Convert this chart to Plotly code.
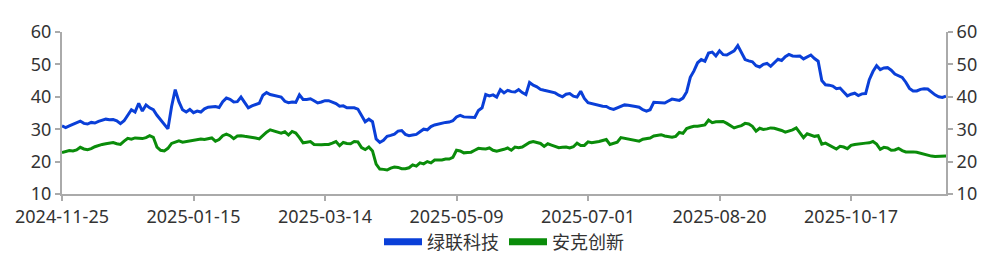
import pandas as pd
import plotly.graph_objects as go

# Trading calendar (categories)
start_date = "2024-11-25"
end_date = "2025-11-24"
holidays = ["2025-01-01", "2025-01-28", "2025-01-29", "2025-01-30", "2025-01-31",
            "2025-02-03", "2025-02-04", "2025-04-04", "2025-05-01", "2025-05-02",
            "2025-05-05", "2025-06-02", "2025-10-01", "2025-10-02", "2025-10-03",
            "2025-10-06", "2025-10-07", "2025-10-08"]
dates = [d.strftime("%Y-%m-%d") for d in pd.bdate_range(start_date, end_date)
         if d.strftime("%Y-%m-%d") not in holidays]

tick_labels = ["2024-11-25", "2025-01-15", "2025-03-14", "2025-05-09",
               "2025-07-01", "2025-08-20", "2025-10-17"]

series_names = ["绿联科技", "安克创新"]

lvlian = [
    31.0, 30.5, 31.0, 31.5, 31.9, 32.5, 31.8, 31.6, 32.1, 31.9,
    32.4, 32.8, 33.1, 32.9, 33.0, 32.6, 31.7, 32.6, 34.5, 36.0,
    35.3, 38.0, 35.6, 37.5, 36.6, 36.0, 34.3, 32.8, 31.5, 30.1,
    37.0, 42.2, 38.5, 36.0, 35.3, 36.1, 35.1, 35.6, 35.3, 36.3,
    36.8, 37.0, 37.0, 36.7, 38.5, 39.6, 39.2, 38.4, 38.5, 39.9,
    38.3, 36.6, 37.2, 37.5, 38.0, 40.5, 41.3, 40.7, 40.4, 40.2,
    39.9, 38.6, 38.2, 38.4, 38.3, 40.6, 39.2, 39.2, 39.4, 38.8,
    38.1, 38.4, 38.8, 38.8, 38.4, 37.9, 37.1, 37.2, 36.6, 36.7,
    36.6, 36.2, 34.2, 32.3, 33.1, 32.3, 27.0, 25.9, 26.6, 27.8,
    28.1, 28.5, 29.4, 29.6, 28.4, 28.0, 28.2, 28.4, 29.2, 30.0,
    29.8, 30.8, 31.3, 31.6, 32.0, 32.1, 32.2, 32.6, 33.8, 34.3,
    33.8, 33.8, 33.7, 33.6, 35.8, 36.6, 40.7, 40.3, 40.6, 39.9,
    42.2, 41.2, 42.0, 41.6, 41.5, 42.2, 41.3, 40.7, 44.4, 43.6,
    43.1, 42.3, 42.0, 41.7, 41.5, 41.2, 40.5, 40.0, 40.8, 41.0,
    40.2, 39.9, 41.7, 39.5, 38.2, 37.9, 37.5, 37.2, 37.1, 37.0,
    36.4, 36.1, 36.5, 37.0, 37.5, 37.4, 37.1, 37.0, 36.8, 36.0,
    35.6, 36.0, 38.3, 38.2, 38.2, 38.1, 38.7, 39.3, 39.1, 38.9,
    39.6, 41.5, 46.0, 48.0, 50.5, 51.5, 51.0, 53.5, 53.8, 52.6,
    54.2, 53.0, 52.9, 53.6, 54.2, 55.8, 53.6, 51.5, 51.1, 50.8,
    49.6, 49.2, 50.0, 50.3, 49.4, 50.6, 51.6, 51.2, 52.4, 53.1,
    52.6, 52.5, 52.6, 51.7, 52.4, 52.9, 51.8, 51.0, 45.0, 43.7,
    43.6, 43.3, 42.5, 42.7, 41.5, 40.3, 40.8, 41.1, 40.4, 40.9,
    41.0, 45.3, 47.8, 49.6, 48.4, 48.9, 49.0, 48.2, 47.0, 46.6,
    46.0, 44.5, 42.6, 41.8, 41.8, 42.3, 42.5, 42.4, 41.5, 40.6,
    40.0, 39.8, 40.2,
]

anker = [
    22.8, 23.2, 23.4, 23.3, 23.6, 24.4, 23.9, 23.7, 24.0, 24.6,
    25.0, 25.3, 25.5, 25.6, 25.9, 25.5, 25.3, 26.3, 27.2, 26.9,
    27.3, 27.2, 27.1, 27.4, 28.0, 27.5, 24.5, 23.5, 23.3, 24.1,
    25.6, 26.0, 26.4, 26.0, 26.2, 26.4, 26.6, 26.7, 27.0, 26.8,
    27.0, 27.3, 26.3, 26.8, 28.0, 28.5, 28.0, 27.1, 27.9, 28.0,
    27.8, 27.7, 27.6, 27.3, 27.0, 28.2, 29.1, 29.8, 29.4, 29.0,
    28.8, 29.2, 28.2, 29.3, 28.8, 27.4, 25.8, 26.0, 26.2, 25.3,
    25.2, 25.2, 25.3, 25.3, 25.7, 26.2, 24.9, 25.9, 25.6, 25.5,
    26.2, 26.1, 24.3, 23.7, 24.5, 23.3, 19.2, 17.7, 17.6, 17.4,
    18.0, 18.3, 18.2, 17.8, 17.8, 18.1, 19.0, 18.6, 19.6, 19.3,
    20.0, 19.6, 20.5, 20.5, 20.5, 20.8, 20.8, 21.3, 23.5, 23.3,
    22.7, 22.8, 22.9, 23.5, 24.1, 24.0, 23.9, 24.2, 23.5, 23.2,
    23.4, 23.8, 24.2, 23.5, 24.5, 24.3, 24.5, 25.2, 25.9, 26.2,
    26.0, 25.6, 24.7, 25.5, 25.1, 24.8, 24.3, 24.4, 24.5, 24.2,
    24.6, 25.7, 25.0, 25.0, 26.1, 25.8, 25.9, 26.2, 26.5, 26.8,
    25.3, 25.7, 26.0, 27.4, 27.2, 27.0, 26.8, 26.5, 26.3, 26.9,
    27.0, 27.3, 27.9, 28.2, 28.3, 27.9, 27.6, 27.5, 27.8, 29.0,
    28.7, 30.2, 30.6, 30.9, 30.9, 31.0, 31.3, 32.8, 32.0, 32.3,
    32.4, 32.4, 31.8, 31.2, 30.4, 30.8, 31.1, 31.8, 31.6, 30.9,
    29.4, 30.3, 29.9, 30.1, 30.4, 30.3, 30.0, 29.6, 29.1, 29.4,
    29.8, 30.4, 29.0, 27.4, 28.6, 28.1, 27.8, 28.0, 25.4, 25.7,
    25.1, 24.6, 23.9, 24.7, 24.5, 24.0, 25.0, 25.3, 25.5, 25.6,
    25.7, 25.8, 26.2, 25.4, 23.8, 24.4, 24.2, 23.5, 23.6, 24.1,
    23.4, 23.0, 23.1, 23.0, 22.9, 22.6, 22.1, 21.9, 21.7, 21.6,
    21.6, 21.6, 21.7,
]

colors = ["#0a3fd8", "#0a8c0a"]
n = min(len(dates), len(lvlian), len(anker))
x = dates[:n]

fig = go.Figure()
fig.add_trace(go.Scatter(x=x, y=lvlian[:n], mode="lines", name=series_names[0],
                         line=dict(color=colors[0], width=3), showlegend=False))
fig.add_trace(go.Scatter(x=x, y=anker[:n], mode="lines", name=series_names[1],
                         line=dict(color=colors[1], width=3), showlegend=False,
                         yaxis="y2"))
# legend entries
for nm, c in zip(series_names, colors):
    fig.add_trace(go.Scatter(x=[None], y=[None], mode="lines", name=nm,
                             line=dict(color=c, width=7), showlegend=True))

font_family = "Noto Sans, Noto Sans CJK SC, sans-serif"
axis_col = "#aaaaaa"
fs = 18

fig.update_layout(
    width=991, height=258,
    margin=dict(l=62, r=45, t=32, b=64, autoexpand=False),
    paper_bgcolor="white", plot_bgcolor="white",
    font=dict(family=font_family, size=fs, color="#333333"),
    xaxis=dict(type="category", range=[0, n - 1], tickmode="array",
               tickvals=tick_labels, ticktext=tick_labels, automargin=False,
               showgrid=False, zeroline=False, showline=True, linecolor=axis_col,
               linewidth=2, ticks="outside", ticklen=5, tickcolor=axis_col,
               tickwidth=2, tickfont=dict(size=fs, color="#333333")),
    yaxis=dict(range=[10, 60], tickvals=[10, 20, 30, 40, 50, 60], showgrid=False,
               zeroline=False, showline=True, linecolor=axis_col, linewidth=2,
               automargin=False,
               ticks="outside", ticklen=5, tickcolor=axis_col, tickwidth=2,
               tickfont=dict(size=fs, color="#333333")),
    yaxis2=dict(range=[10, 60], tickvals=[10, 20, 30, 40, 50, 60], overlaying="y",
                side="right", showgrid=False, zeroline=False, showline=True,
                automargin=False,
                linecolor=axis_col, linewidth=2, ticks="outside", ticklen=5,
                tickcolor=axis_col, tickwidth=2,
                tickfont=dict(size=fs, color="#333333")),
    legend=dict(orientation="h", x=0.5, xanchor="center", yref="container",
                y=0.062, yanchor="middle", font=dict(size=fs, color="#333333"),
                itemwidth=38, tracegroupgap=0),
)

fig.write_html("out.html")
